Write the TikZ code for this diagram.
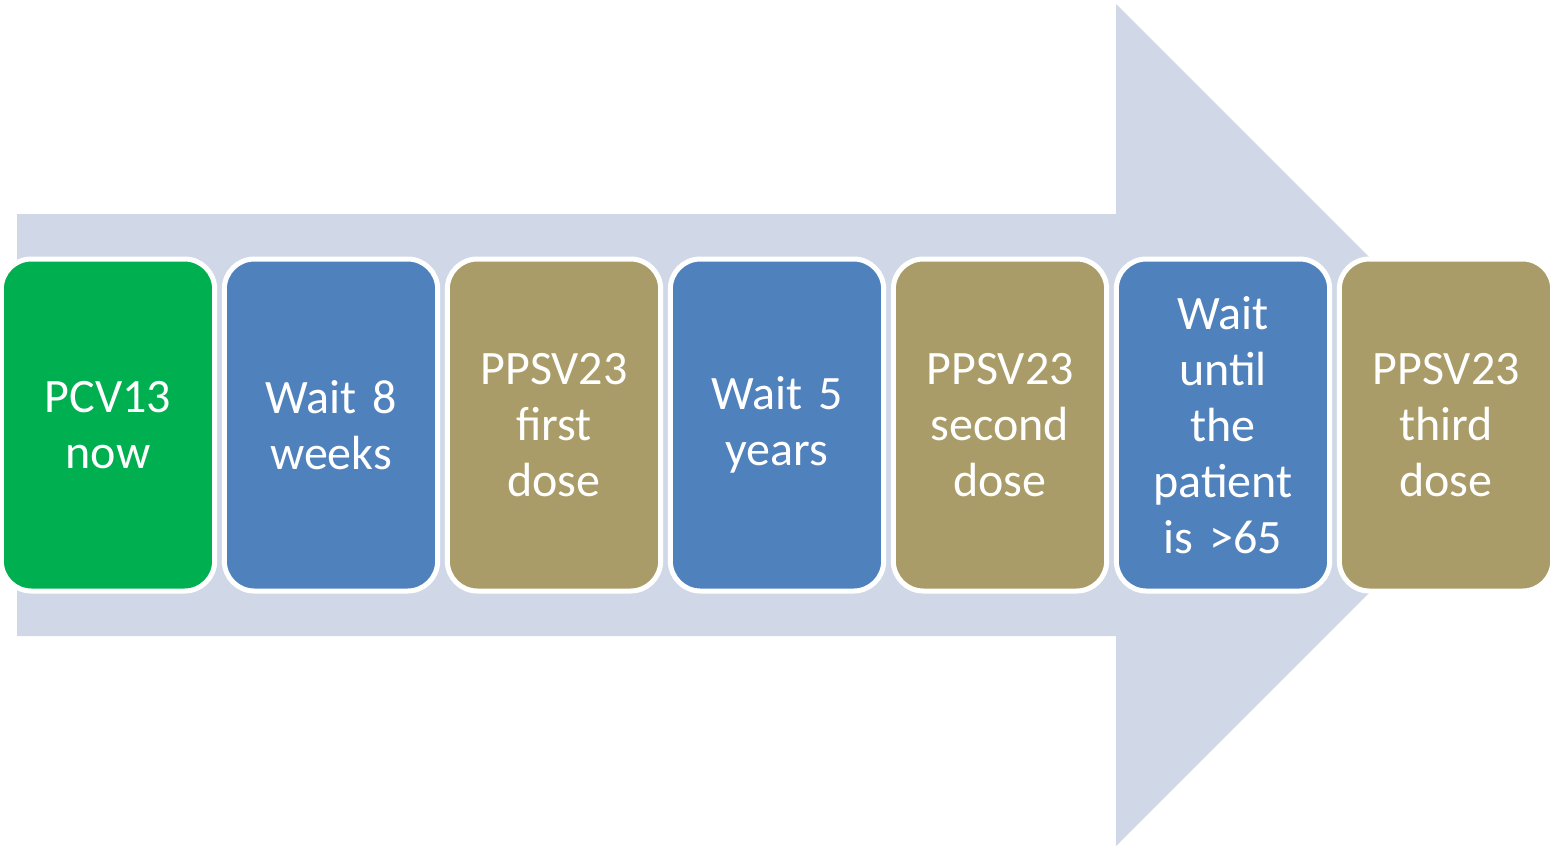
\documentclass[tikz,border=0pt]{standalone}
\usepackage{fontspec}
\setmainfont{Carlito}[WordSpace=0.8]
\usetikzlibrary{positioning}
\definecolor{arrowgray}{HTML}{D0D8E8}
\definecolor{vacgreen}{HTML}{00B050}
\definecolor{waitblue}{HTML}{4F81BD}
\definecolor{doseolive}{HTML}{A99C68}
\tikzset{
	stepbox/.style={draw=white, line width=2.5pt, rounded corners=15pt,
		minimum width=104pt, minimum height=166pt, text width=100pt,
		align=center, text=white, font=\fontsize{24pt}{28pt}\selectfont}
}

\begin{document}
\begin{tikzpicture}[x=0.5pt, y=-0.5pt]

\useasboundingbox (0, 0) rectangle (1556, 852);

% big arrow behind the steps
\fill[arrowgray] (17, 214) -- (1116, 214) -- (1116, 4) -- (1537, 425)
	-- (1116, 846) -- (1116, 636) -- (17, 636) -- cycle;

\foreach \name/\col/\txt [count=\i from 0] in {
	pcv/vacgreen/{PCV13\\now},
	waitA/waitblue/{Wait 8\\weeks},
	doseA/doseolive/{PPSV23\\first\\dose},
	waitB/waitblue/{Wait 5\\years},
	doseB/doseolive/{PPSV23\\second\\dose},
	waitC/waitblue/{Wait\\until\\the\\patient\\is >65},
	doseC/doseolive/{PPSV23\\third\\dose}}
{
	\node[stepbox, fill=\col] (\name) at (108 + 223*\i, 425) {\txt};
}

\end{tikzpicture}
\end{document}
